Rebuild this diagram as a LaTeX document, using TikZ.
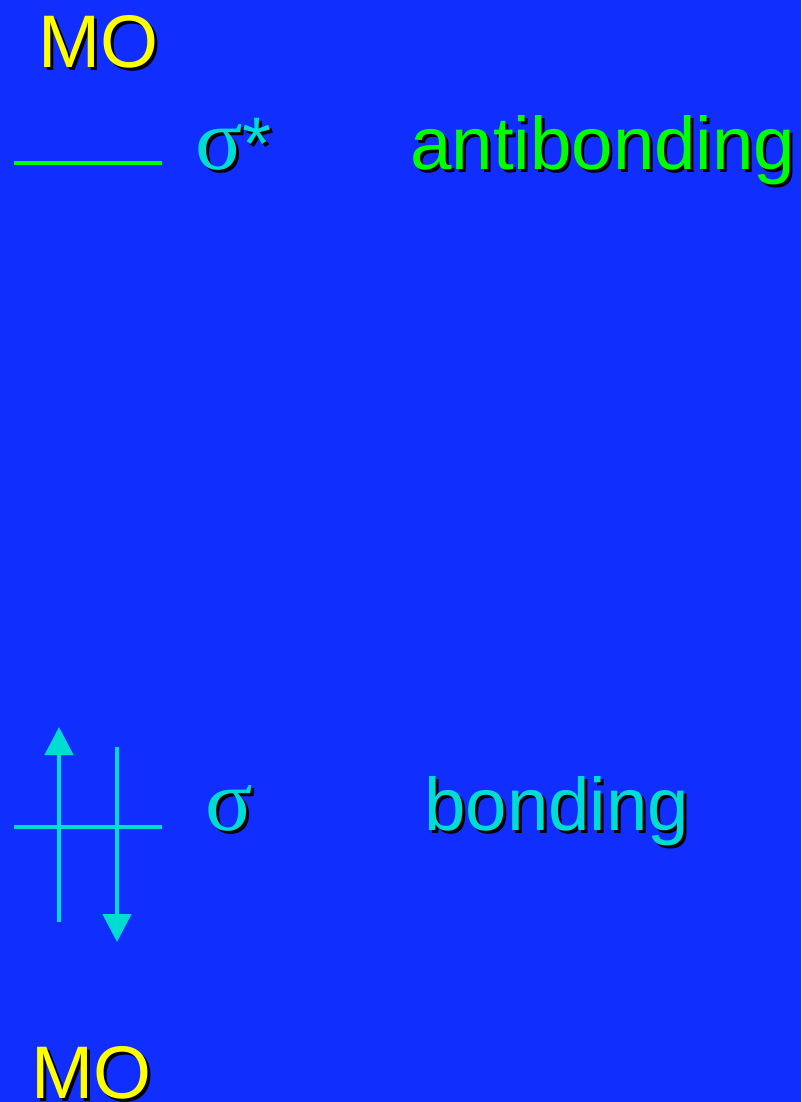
\documentclass[tikz,border=0pt]{standalone}
\usepackage{fontspec}
\setmainfont{Liberation Sans}
\newfontfamily\serifsig{Liberation Serif}
\usetikzlibrary{arrows.meta,calc}
\definecolor{bg}{RGB}{16,47,255}
\definecolor{moyellow}{RGB}{255,255,0}
\definecolor{mogreen}{RGB}{0,255,0}
\definecolor{mocyan}{RGB}{0,220,210}
\tikzset{
  txt/.style={inner sep=0pt, anchor=base west, font=\fontsize{74.5}{80}\selectfont},
  shadowtxt/.style={txt, text=black},
  level/.style={line width=4.5pt},
  spinarrow/.style={line width=4.5pt, -{Triangle[width=28pt,length=28pt]}}
}
\newcommand{\shadowed}[4]{%
  \node[shadowtxt] (#1s) at ($(#2)+(3,3)$) {#4};
  \node[txt, text=#3] (#1) at (#2) {#4};
}
\newcommand{\bigsig}{{\serifsig\fontsize{88}{90}\selectfont σ}}
\begin{document}
\begin{tikzpicture}[x=1pt,y=-1pt]
\fill[bg] (0,0) rectangle (801,1102);
\useasboundingbox (0,0) rectangle (801,1102);
% top MO
\shadowed{motop}{38,68}{moyellow}{MO}
% sigma star
\shadowed{sigstar}{195,170}{mocyan}{\bigsig*}
% antibonding
\shadowed{anti}{410,170}{mogreen}{antibonding}
% antibonding level
\coordinate (a1) at (14,163);
\coordinate (a2) at (162,163);
\draw[level, mogreen] (a1) -- (a2);
% bonding level
\coordinate (b1) at (14,827);
\coordinate (b2) at (162,827);
\draw[level, mocyan] (b1) -- (b2);
% spin arrows
\coordinate (u1) at (59,922);
\coordinate (u2) at (59,727);
\draw[spinarrow, mocyan] (u1) -- (u2);
\coordinate (d1) at (117,747);
\coordinate (d2) at (117,942);
\draw[spinarrow, mocyan] (d1) -- (d2);
% sigma
\shadowed{sig}{205,830}{mocyan}{\bigsig}
% bonding
\shadowed{bond}{424,830}{mocyan}{bonding}
% bottom MO
\shadowed{mobot}{31,1098}{moyellow}{MO}
\end{tikzpicture}
\end{document}
